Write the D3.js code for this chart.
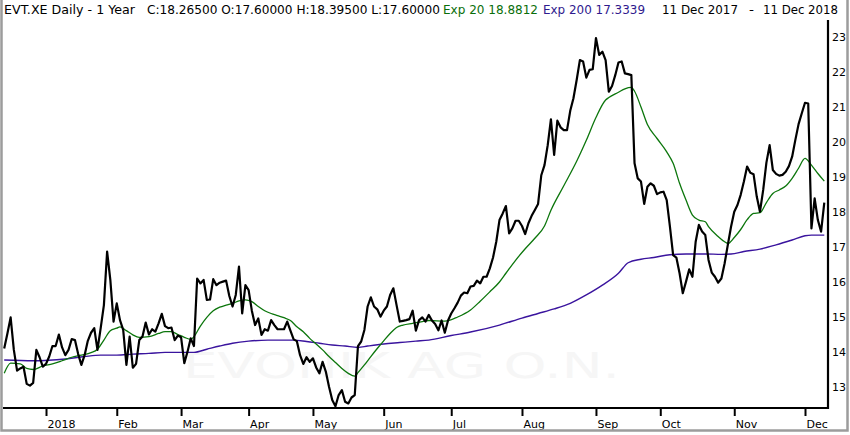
<!DOCTYPE html>
<html>
<head>
<meta charset="utf-8">
<script src="https://cdn.jsdelivr.net/npm/d3@7"></script>
<style>
  body { margin: 0; background: #fff; }
  svg { display: block; }
</style>
</head>
<body>
<div class="chart"></div>
<script>
// daily closes, 11 Dec 2017 .. 11 Dec 2018 (one per trading day)
const closes = [
    14.10, 14.53, 14.99, 14.06, 13.47, 13.53, 13.58, 13.09, 13.04, 13.12,
    14.06, 13.85, 13.58, 13.66, 13.87, 14.17, 14.17, 14.50, 14.13, 13.91,
    14.06, 14.37, 14.34, 13.94, 13.63, 13.91, 14.32, 14.55, 14.68, 14.06,
    14.68, 15.34, 16.87, 16.06, 14.87, 15.39, 14.91, 14.63, 13.63, 14.44,
    13.55, 13.66, 14.34, 14.44, 14.84, 14.50, 14.65, 14.58, 14.82, 15.09,
    14.74, 14.68, 14.70, 14.34, 14.47, 14.42, 13.68, 14.01, 14.39, 14.17,
    16.10, 15.96, 16.06, 15.49, 15.50, 16.08, 15.91, 15.98, 16.01, 16.04,
    15.60, 15.30, 15.63, 16.44, 15.10, 15.91, 15.77, 15.18, 14.77, 14.96,
    14.49, 14.65, 14.61, 14.91, 14.77, 14.65, 14.65, 14.65, 14.87, 14.61,
    14.36, 14.31, 13.91, 13.66, 13.85, 13.72, 13.82, 13.56, 13.39, 13.72,
    13.44, 13.01, 12.63, 12.45, 12.77, 12.91, 12.58, 12.53, 12.70, 12.77,
    14.17, 14.30, 14.63, 15.30, 15.56, 15.30, 15.22, 15.01, 15.18, 15.30,
    15.63, 15.82, 15.34, 14.87, 14.89, 14.91, 14.94, 15.18, 14.61, 14.91,
    14.99, 14.87, 15.06, 14.90, 14.80, 14.62, 14.90, 14.55, 14.90, 15.10,
    15.25, 15.41, 15.61, 15.70, 15.68, 15.87, 15.89, 16.04, 15.96, 16.15,
    16.15, 16.39, 16.70, 17.15, 17.77, 17.96, 18.17, 17.39, 17.53, 17.75,
    17.75, 17.60, 17.37, 17.68, 17.89, 18.06, 18.23, 19.05, 19.34, 19.91,
    20.65, 19.63, 20.61, 20.42, 20.34, 20.34, 20.89, 21.25, 21.77, 22.34,
    22.30, 21.84, 22.06, 22.08, 22.97, 22.49, 22.58, 22.34, 21.44, 21.60,
    21.91, 22.27, 22.30, 21.96, 21.94, 21.91, 19.39, 18.96, 18.87, 18.23,
    18.72, 18.82, 18.75, 18.51, 18.56, 18.58, 18.34, 17.58, 16.77, 16.70,
    16.25, 15.68, 16.01, 16.36, 16.15, 17.15, 17.63, 17.44, 17.34, 16.63,
    16.27, 16.15, 15.98, 16.10, 16.53, 17.06, 17.58, 18.01, 18.20, 18.49,
    18.87, 19.30, 19.12, 19.08, 18.44, 18.01, 18.63, 19.41, 19.91, 19.20,
    19.09, 19.04, 19.06, 19.15, 19.31, 19.58, 20.06, 20.51, 20.82, 21.12,
    21.10, 17.53, 18.39, 17.77, 17.44, 18.27
];

// Exp 20 at these trading-day indexes
const ema20Days = [0, 2, 5, 7, 9, 12, 15, 18, 21, 24, 27, 29, 31, 33, 35, 36, 38, 40, 42, 45,
    48, 50, 52, 54, 56, 58, 59, 61, 63, 65, 67, 69, 71, 73, 75, 77, 79, 81, 83, 85,
    87, 89, 91, 93, 95, 97, 99, 101, 103, 105, 107, 109, 110, 112, 114, 116, 118, 120, 122, 124,
    127, 130, 132, 137, 141, 145, 148, 151, 154, 156, 159, 162, 165, 168, 170, 174, 178, 181, 184, 187,
    188, 191, 193, 195, 196, 198, 200, 203, 206, 208, 210, 212, 214, 216, 218, 219, 222, 224, 225, 227,
    229, 231, 233, 235, 237, 239, 241, 243, 245, 247, 249, 251, 253, 255];
const ema20Values = [13.39, 13.68, 13.66, 13.53, 13.50, 13.60, 13.66, 13.75, 13.85, 13.91, 13.98, 14.08, 14.34, 14.61, 14.68, 14.72, 14.61, 14.49, 14.42, 14.44,
    14.53, 14.58, 14.58, 14.50, 14.42, 14.36, 14.44, 14.74, 14.99, 15.18, 15.28, 15.34, 15.39, 15.46, 15.49, 15.44, 15.30, 15.18, 15.10, 15.04,
    14.98, 14.90, 14.72, 14.58, 14.39, 14.23, 14.06, 13.87, 13.70, 13.53, 13.39, 13.31, 13.41, 13.63, 13.87, 14.10, 14.32, 14.53, 14.70, 14.77,
    14.82, 14.87, 14.90, 14.88, 15.00, 15.20, 15.45, 15.72, 16.00, 16.25, 16.62, 16.95, 17.25, 17.60, 18.05, 18.75, 19.45, 20.05, 20.70, 21.20,
    21.27, 21.42, 21.52, 21.56, 21.45, 21.00, 20.50, 20.10, 19.72, 19.39, 18.82, 18.34, 17.91, 17.77, 17.72, 17.58, 17.30, 17.15, 17.10, 17.27,
    17.50, 17.78, 17.96, 17.98, 18.27, 18.53, 18.63, 18.74, 18.96, 19.25, 19.53, 19.34, 19.10, 18.88];

// Exp 200
const ema200Days = [0, 9, 19, 25, 30, 35, 40, 45, 50, 59, 63, 67, 71, 76, 82, 90, 94, 98, 102, 106,
    110, 113, 118, 123, 128, 132, 139, 145, 154, 161, 166, 171, 176, 181, 186, 191, 194, 198, 202, 207,
    212, 218, 223, 226, 230, 235, 240, 245, 249, 251, 255];
const ema200Values = [13.77, 13.75, 13.80, 13.87, 13.91, 13.91, 13.94, 13.96, 13.99, 13.99, 14.08, 14.17, 14.25, 14.31, 14.34, 14.34, 14.30, 14.25, 14.20, 14.17,
    14.13, 14.17, 14.23, 14.27, 14.31, 14.34, 14.47, 14.57, 14.77, 14.97, 15.10, 15.23, 15.39, 15.63, 15.91, 16.25, 16.55, 16.65, 16.70, 16.78,
    16.80, 16.80, 16.79, 16.80, 16.87, 16.94, 17.06, 17.20, 17.32, 17.34, 17.34];

// first trading day of each month and its label
const monthDays = [13, 35, 55, 76, 96, 118, 139, 161, 184, 204, 227, 249];
const monthLabels = ["2018", "Feb", "Mar", "Apr", "May", "Jun", "Jul", "Aug", "Sep", "Oct", "Nov", "Dec"];
const priceTicks = [13, 14, 15, 16, 17, 18, 19, 20, 21, 22, 23];

const width = 850, height = 435;
const plotLeft = 3, plotRight = 828, plotTop = 20, plotBottom = 408;

const svg = d3.select('.chart')
    .append('svg')
        .attr("width", width)
        .attr("height", height)
        .style("font-family", "'DejaVu Sans', sans-serif");

const xScale = d3.scaleLinear()
    .domain([0, closes.length - 1])
    .range([4.2, 824.3]);

const yScale = d3.scaleLinear()
    .domain([13, 23])
    .range([387, 37]);

// faint watermark
svg.append("text")
    .attr("x", 183)
    .attr("y", 378)
    .attr("font-size", 36)
    .attr("fill", "#f6f6f6")
    .attr("textLength", 437)
    .attr("lengthAdjust", "spacingAndGlyphs")
    .text("EVONIK AG O.N.");

const line = d3.line()
    .x(d => xScale(d[0]))
    .y(d => yScale(d[1]));

svg.append("path")
    .datum(ema200Days.map((d, i) => [d, ema200Values[i]]))
    .attr("d", line.curve(d3.curveMonotoneX))
    .attr("fill", "none")
    .attr("stroke", "#3a149e")
    .attr("stroke-width", 1.4);

svg.append("path")
    .datum(ema20Days.map((d, i) => [d, ema20Values[i]]))
    .attr("d", line.curve(d3.curveMonotoneX))
    .attr("fill", "none")
    .attr("stroke", "#0c760c")
    .attr("stroke-width", 1.3);

svg.append("path")
    .datum(closes.map((v, i) => [i, v]))
    .attr("d", line.curve(d3.curveLinear))
    .attr("fill", "none")
    .attr("stroke", "#000")
    .attr("stroke-width", 2.2)
    .attr("stroke-linejoin", "round");

// bottom axis
const xAxis = d3.axisBottom(xScale)
    .tickValues(monthDays)
    .tickFormat((d, i) => monthLabels[i])
    .tickSize(8)
    .tickSizeOuter(0);

const gx = svg.append("g")
    .attr("transform", `translate(0,${plotBottom})`)
    .call(xAxis);
gx.select(".domain").remove();
gx.selectAll(".tick line").attr("stroke", "#000").attr("stroke-width", 2);
gx.selectAll(".tick text")
    .attr("text-anchor", "start")
    .attr("x", 1)
    .attr("y", 12)
    .attr("font-size", 11)
    .attr("font-family", "'DejaVu Sans', sans-serif")
    .attr("fill", "#000");

svg.append("line")
    .attr("x1", plotLeft).attr("x2", plotRight + 1)
    .attr("y1", plotBottom).attr("y2", plotBottom)
    .attr("stroke", "#000").attr("stroke-width", 2.2);

// right axis
const yAxis = d3.axisRight(yScale)
    .tickValues(priceTicks)
    .tickSize(0)
    .tickPadding(4);

const gy = svg.append("g")
    .attr("transform", `translate(${plotRight},0)`)
    .call(yAxis);
gy.select(".domain").remove();
gy.selectAll(".tick text")
    .attr("font-size", 11)
    .attr("font-family", "'DejaVu Sans', sans-serif")
    .attr("fill", "#000");

svg.append("line")
    .attr("x1", plotRight).attr("x2", plotRight)
    .attr("y1", plotTop).attr("y2", plotBottom + 1)
    .attr("stroke", "#000").attr("stroke-width", 2.2);

// header
const header = [
    { t: "EVT.XE Daily -  1 Year", x: 4, w: 131, c: "#000" },
    { t: "C:18.26500 O:17.60000 H:18.39500 L:17.60000", x: 147, w: 293, c: "#000" },
    { t: "Exp 20 18.8812", x: 443, w: 95, c: "#0a6e0a" },
    { t: "Exp 200 17.3339", x: 543, w: 102, c: "#2f1a8e" },
    { t: "11 Dec 2017", x: 662, w: 76, c: "#000" },
    { t: "-", x: 749, w: 5, c: "#000" },
    { t: "11 Dec 2018", x: 763, w: 75, c: "#000" }
];
svg.selectAll(".hdr")
    .data(header)
    .join("text")
    .attr("class", "hdr")
    .attr("x", d => d.x)
    .attr("y", 14)
    .attr("font-size", 12)
    .attr("fill", d => d.c)
    .attr("textLength", d => d.w)
    .attr("lengthAdjust", "spacingAndGlyphs")
    .text(d => d.t);

// outer frame
svg.append("rect")
    .attr("x", 1.5).attr("y", -3)
    .attr("width", width - 4).attr("height", height - 1.5)
    .attr("fill", "none")
    .attr("stroke", "#9c9c9c")
    .attr("stroke-width", 2.5);
</script>
</body>
</html>
